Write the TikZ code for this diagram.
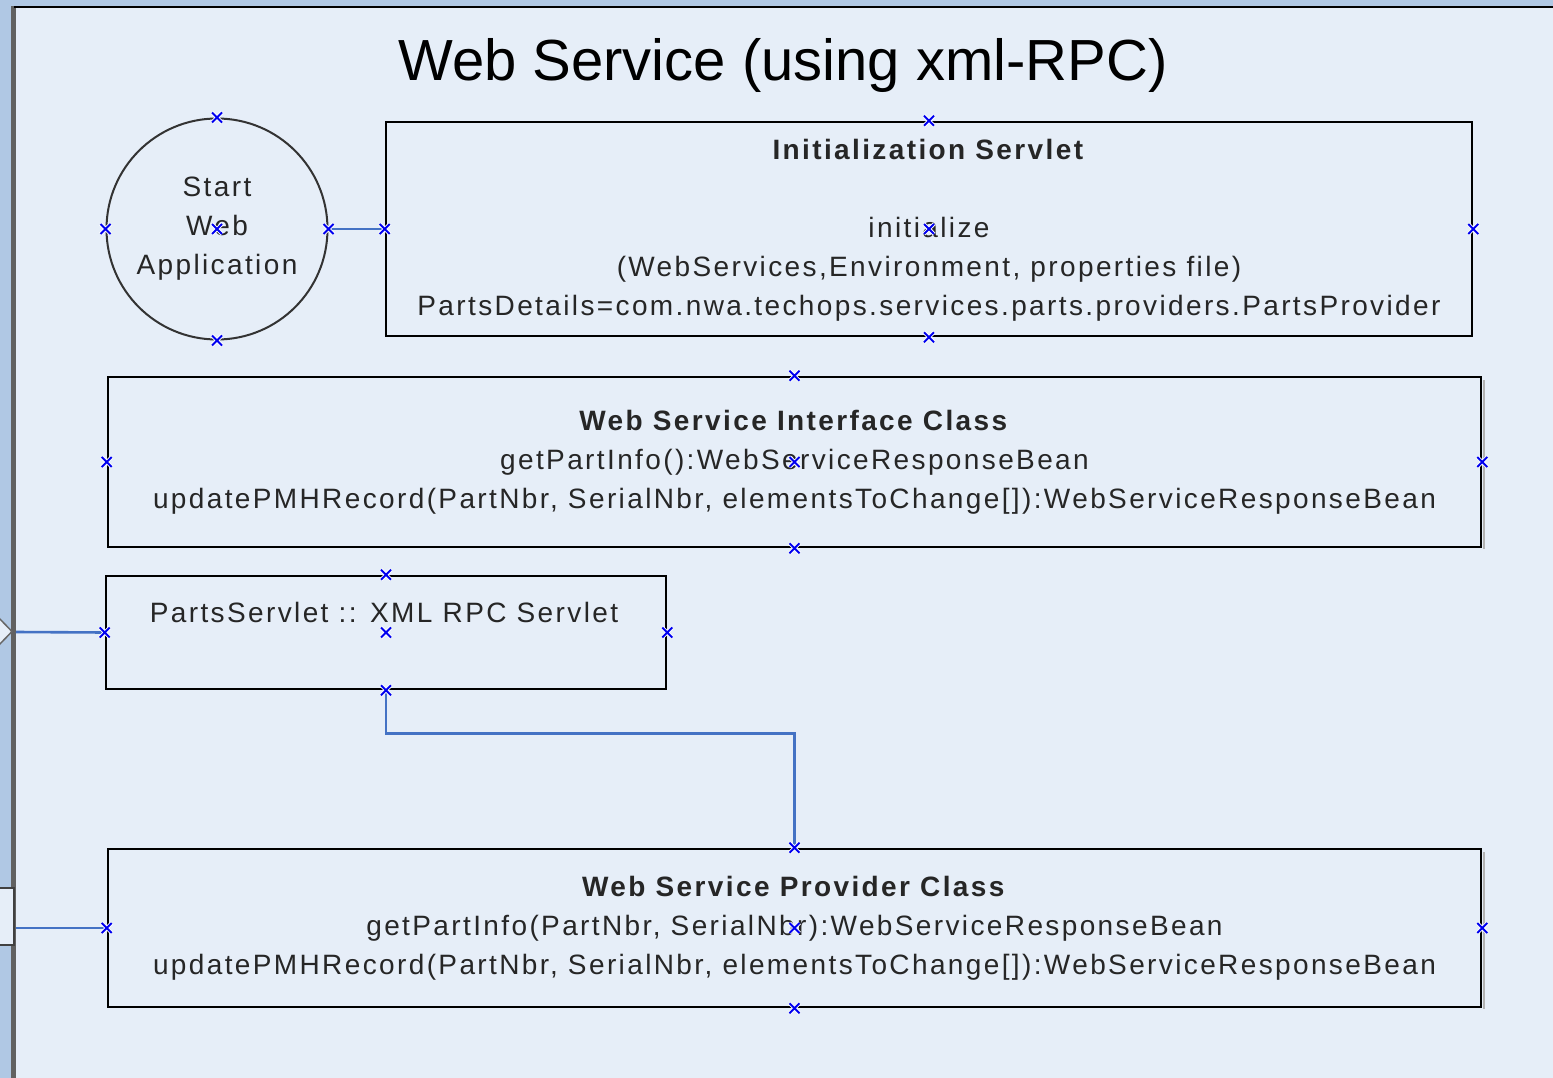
\documentclass[tikz,border=0pt]{standalone}
\usepackage{fontspec}
\setmainfont{Liberation Sans}
\usetikzlibrary{calc}
\definecolor{bgc}{HTML}{E6EEF8}
\definecolor{stripc}{HTML}{B0C8E4}
\definecolor{conn}{HTML}{4472C4}
\definecolor{cpblue}{HTML}{0000F0}
\newcommand\cpx[1]{%
  \draw[white, line width=3.6pt] ($(#1)+(-5,-5)$) -- ($(#1)+(5,5)$) ($(#1)+(-5,5)$) -- ($(#1)+(5,-5)$);
  \draw[cpblue, line width=2pt] ($(#1)+(-5,-5)$) -- ($(#1)+(5,5)$) ($(#1)+(-5,5)$) -- ($(#1)+(5,-5)$);}
\begin{document}
\begin{tikzpicture}[x=1pt,y=-1pt,
  box/.style={draw=black, line width=2.6pt, rectangle, inner sep=0pt},
  txt/.style={font=\fontsize{28}{39}\selectfont\addfontfeatures{LetterSpace=8.5}, text=black!85, align=center, inner sep=0pt},
  connector/.style={draw=conn, line width=2.6pt},
  shadowline/.style={draw=black!30, line width=2pt},
]
\useasboundingbox (0,0) rectangle (1553,1078);
\fill[stripc] (0,0) rectangle (1553,1078);
\fill[bgc] (16,8) rectangle (1553,1078);
\fill[black!62] (11,6) rectangle (16,1078);
\fill[black] (14,6) rectangle (1553,8.5);
% left-edge stubs
\filldraw[fill=bgc, draw=black!60, line width=1.5pt] (-2,617) -- (12,631.5) -- (-2,646);
\filldraw[fill=bgc, draw=black!75, line width=2pt] (-3,888) rectangle (14,945);

\node[font=\fontsize{58}{60}\selectfont, text=black, inner sep=0pt] (title) at (783,66) {Web Service (using xml-RPC)};

\node[draw=black!80, line width=2pt, circle, minimum size=221, inner sep=0pt, txt] (start) at (217,229) {Start\\Web\\Application};

\node[box, minimum width=1086, minimum height=214] (init) at (929,229) {};
\node[txt] (initlabel) at (929,230) {\textbf{Initialization Servlet}\\[39pt]initialize\\(WebServices,Environment, properties file)\\PartsDetails=com.nwa.techops.services.parts.providers.PartsProvider};

\draw[shadowline] (1484,380) -- (1484,549);
\node[box, minimum width=1373, minimum height=170] (iface) at (794.5,462) {};
\node[txt] (ifacelabel) at (794.5,462) {\textbf{Web Service Interface Class}\\getPartInfo():WebServiceResponseBean\\updatePMHRecord(PartNbr, SerialNbr, elementsToChange[]):WebServiceResponseBean};

\node[box, minimum width=560, minimum height=113] (ps) at (386,632.5) {};
\node[txt] (pslabel) at (384,612) {PartsServlet :: XML RPC Servlet};

\draw[shadowline] (1484,852) -- (1484,1009);
\node[box, minimum width=1373, minimum height=158] (prov) at (794.5,928) {};
\node[txt] (provlabel) at (794.5,928) {\textbf{Web Service Provider Class}\\getPartInfo(PartNbr, SerialNbr):WebServiceResponseBean\\updatePMHRecord(PartNbr, SerialNbr, elementsToChange[]):WebServiceResponseBean};

\coordinate (leftA) at (16,632);
\coordinate (leftB) at (16,928);

\draw[connector] (start.east) -- (init.west);
\draw[connector] (leftA) -- (ps.west);
\draw[connector] (leftB) -- (prov.west);
\draw[connector] (ps.south) -- ++(0,43) -| (prov.north);

\foreach \n in {start,init,iface,ps,prov}{
  \foreach \a in {north,south,east,west,center}{
    \cpx{\n.\a}
  }
}
\end{tikzpicture}
\end{document}
